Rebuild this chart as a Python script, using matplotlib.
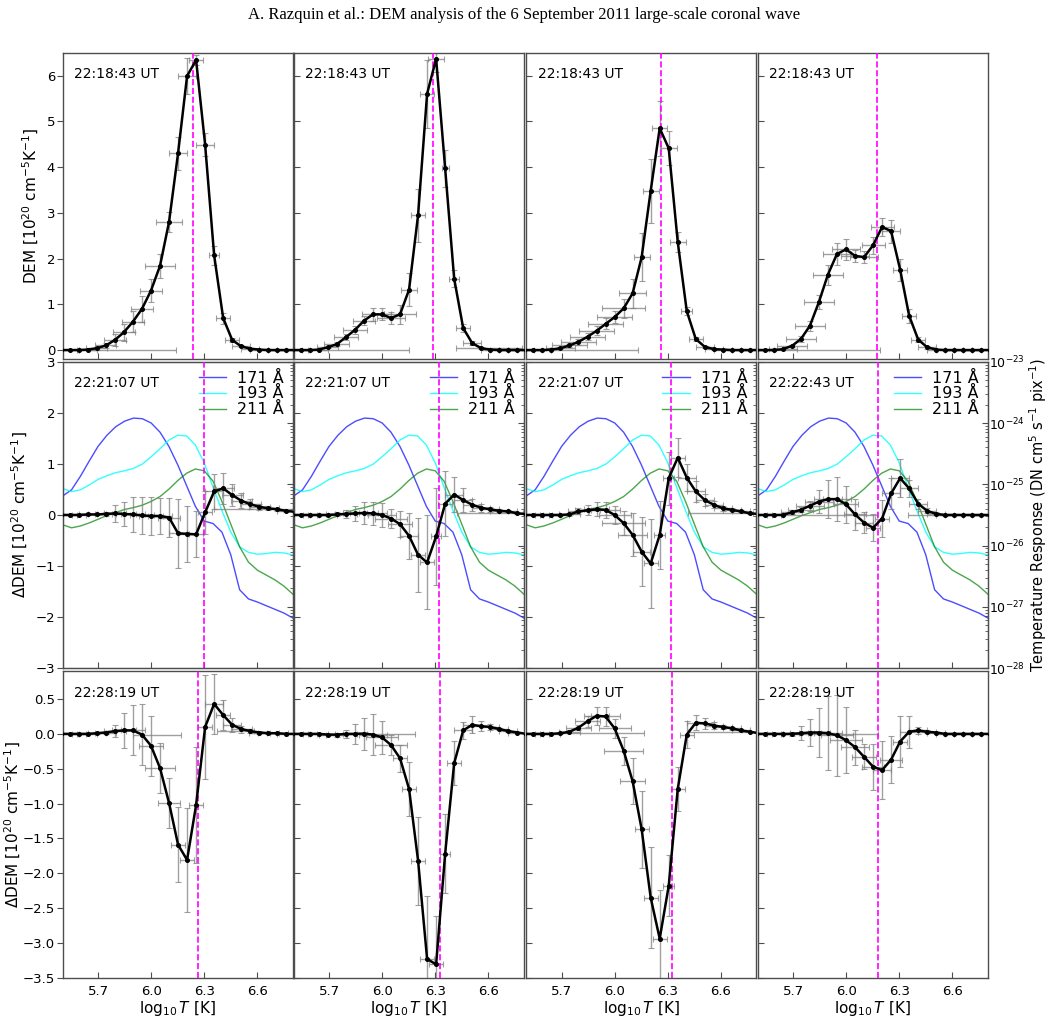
import numpy as np
import matplotlib
matplotlib.use("Agg")
import matplotlib.pyplot as plt

# temperature grid of the DEM points (two outer points fall just outside the axes)
logT = [5.489, 5.54, 5.591, 5.642, 5.693, 5.744, 5.795, 5.846, 5.897, 5.948, 5.999,
        6.05, 6.101, 6.152, 6.203, 6.254, 6.305, 6.356, 6.407, 6.458, 6.509, 6.56,
        6.611, 6.662, 6.713, 6.764, 6.815]

# ---- row 1 : DEM ----
dem_r1c1 = [0, 0, 0, 0.01, 0.04, 0.1, 0.22, 0.39, 0.62, 0.9, 1.3, 1.84, 2.8, 4.3, 5.99, 6.34, 4.49, 2.07, 0.7, 0.22, 0.08, 0.03, 0.01, 0, 0, 0, 0]
dem_r1c2 = [0, 0, 0, 0.01, 0.06, 0.13, 0.28, 0.44, 0.64, 0.78, 0.78, 0.7, 0.78, 1.32, 2.95, 5.6, 6.37, 3.97, 1.56, 0.48, 0.15, 0.04, 0.01, 0, 0, 0, 0]
dem_r1c3 = [0, 0, 0, 0.01, 0.04, 0.1, 0.18, 0.29, 0.42, 0.57, 0.72, 0.91, 1.24, 2.03, 3.48, 4.85, 4.41, 2.36, 0.85, 0.24, 0.07, 0.02, 0.01, 0, 0, 0, 0]
dem_r1c4 = [0, 0, 0, 0.02, 0.09, 0.24, 0.53, 1.05, 1.65, 2.1, 2.2, 2.06, 2.03, 2.29, 2.69, 2.6, 1.76, 0.75, 0.23, 0.06, 0.01, 0, 0, 0, 0, 0, 0]

# ---- row 2 : DEM difference ----
dem_r2c1 = [0, 0, 0, 0.01, 0.01, 0.02, 0.03, 0.02, 0.01, -0.01, -0.02, -0.02, -0.05, -0.36, -0.37, -0.38, 0.05, 0.46, 0.52, 0.39, 0.28, 0.21, 0.16, 0.13, 0.11, 0.08, 0.06]
dem_r2c2 = [0, 0, 0, 0, 0, 0.01, 0.02, 0.03, 0.04, 0.03, 0, -0.07, -0.18, -0.41, -0.78, -0.93, -0.42, 0.22, 0.4, 0.29, 0.2, 0.14, 0.11, 0.08, 0.07, 0.03, 0.02]
dem_r2c3 = [0, 0, 0, 0, 0, 0.01, 0.07, 0.09, 0.11, 0.1, 0, -0.16, -0.39, -0.72, -0.95, -0.39, 0.72, 1.12, 0.73, 0.46, 0.29, 0.2, 0.13, 0.1, 0.07, 0.03, 0.02]
dem_r2c4 = [0, 0, 0, 0, 0.05, 0.1, 0.18, 0.26, 0.31, 0.31, 0.21, 0.01, -0.15, -0.25, -0.07, 0.42, 0.72, 0.52, 0.22, 0.08, 0.02, 0, 0, 0, 0, 0, 0]

# ---- row 3 : DEM difference ----
dem_r3c1 = [0, 0, 0, 0, 0.01, 0.02, 0.04, 0.05, 0.05, -0.01, -0.17, -0.49, -0.99, -1.59, -1.81, -1.02, 0.1, 0.43, 0.27, 0.13, 0.07, 0.04, 0.02, 0.01, 0.01, 0, 0]
dem_r3c2 = [0, 0, 0, 0, -0.01, -0.01, 0, 0, 0.005, -0.01, -0.05, -0.16, -0.35, -0.79, -1.82, -3.23, -3.31, -1.72, -0.42, 0.05, 0.13, 0.11, 0.1, 0.07, 0.04, 0.02, 0]
dem_r3c3 = [0, 0, 0, 0, 0.01, 0.03, 0.09, 0.18, 0.26, 0.25, 0.08, -0.24, -0.68, -1.37, -2.35, -2.94, -2.18, -0.79, -0.01, 0.16, 0.15, 0.12, 0.1, 0.08, 0.05, 0.03, 0.01]
dem_r3c4 = [0, 0, 0, 0, 0, 0.01, 0.02, 0.02, 0.01, -0.02, -0.09, -0.19, -0.33, -0.47, -0.52, -0.37, -0.11, 0.03, 0.05, 0.03, 0.02, 0, 0, 0, 0, 0, 0]

# vertical errors (inner 25 points)
yerr_r1c1 = [0, 0, 0.01, 0.03, 0.05, 0.13, 0.19, 0.23, 0.29, 0.26, 0.26, 0.22, 0.36, 0.4, 0.1, 0.25, 0.2, 0.12, 0.05, 0.02, 0.01, 0, 0, 0, 0]
yerr_r1c2 = [0, 0, 0.01, 0.02, 0.04, 0.06, 0.08, 0.1, 0.14, 0.13, 0.13, 0.2, 0.36, 0.58, 0.74, 0.3, 0.4, 0.18, 0.09, 0.04, 0.02, 0.01, 0, 0, 0]
yerr_r1c3 = [0, 0, 0.01, 0.02, 0.04, 0.06, 0.08, 0.1, 0.12, 0.13, 0.2, 0.32, 0.53, 0.7, 0.6, 0.37, 0.22, 0.09, 0.05, 0.02, 0.01, 0, 0, 0, 0]
yerr_r1c4 = [0, 0, 0.01, 0.03, 0.06, 0.11, 0.15, 0.22, 0.25, 0.23, 0.13, 0.13, 0.18, 0.2, 0.25, 0.24, 0.15, 0.06, 0.03, 0.01, 0, 0, 0, 0, 0]
yerr_r2c1 = [0, 0, 0.01, 0.02, 0.04, 0.16, 0.23, 0.35, 0.37, 0.37, 0.35, 0.38, 0.67, 0.55, 0.45, 0.42, 0.35, 0.3, 0.22, 0.15, 0.1, 0.06, 0.04, 0.03, 0.02]
yerr_r2c2 = [0, 0, 0.01, 0.02, 0.04, 0.08, 0.15, 0.22, 0.23, 0.23, 0.18, 0.25, 0.45, 0.72, 0.92, 0.95, 0.64, 0.34, 0.23, 0.12, 0.08, 0.05, 0.03, 0.02, 0.01]
yerr_r2c3 = [0, 0, 0.01, 0.02, 0.03, 0.06, 0.1, 0.14, 0.15, 0.18, 0.23, 0.42, 0.68, 0.88, 0.66, 0.52, 0.38, 0.26, 0.2, 0.12, 0.07, 0.05, 0.03, 0.02, 0.01]
yerr_r2c4 = [0, 0, 0.01, 0.03, 0.05, 0.1, 0.23, 0.37, 0.43, 0.36, 0.3, 0.2, 0.26, 0.37, 0.3, 0.37, 0.16, 0.1, 0.05, 0.03, 0.02, 0.01, 0, 0, 0]
yerr_r3c1 = [0, 0, 0, 0.01, 0.02, 0.09, 0.25, 0.36, 0.44, 0.43, 0.36, 0.36, 0.54, 0.74, 0.83, 0.75, 0.43, 0.22, 0.1, 0.05, 0.03, 0.02, 0.01, 0, 0]
yerr_r3c2 = [0, 0, 0, 0.01, 0.03, 0.06, 0.14, 0.23, 0.3, 0.24, 0.15, 0.19, 0.39, 0.63, 0.9, 0.7, 0.57, 0.32, 0.12, 0.12, 0.07, 0.04, 0.02, 0.01, 0]
yerr_r3c3 = [0, 0, 0, 0.01, 0.02, 0.04, 0.08, 0.13, 0.14, 0.14, 0.2, 0.33, 0.55, 0.73, 0.7, 0.44, 0.32, 0.19, 0.11, 0.08, 0.05, 0.03, 0.02, 0.01, 0]
yerr_r3c4 = [0, 0, 0, 0.03, 0.1, 0.2, 0.35, 0.53, 0.58, 0.47, 0.25, 0.18, 0.33, 0.42, 0.34, 0.37, 0.23, 0.05, 0.02, 0.01, 0, 0, 0, 0, 0]

# horizontal (temperature resolution) errors, symmetric
xerr_r1c1 = [0.05, 0.05, 0.05, 0.06, 0.06, 0.064, 0.064, 0.062, 0.064, 0.063, 0.087, 0.072, 0.05, 0.051, 0.038, 0.05, 0.03, 0.04, 0.04, 0.05, 0.05, 0.05, 0.05, 0.05, 0.05]
xerr_r1c2 = [0.04, 0.04, 0.05, 0.06, 0.07, 0.07, 0.07, 0.06, 0.06, 0.05, 0.08, 0.09, 0.044, 0.04, 0.041, 0.044, 0.02, 0.03, 0.04, 0.05, 0.05, 0.05, 0.05, 0.05, 0.05]
xerr_r1c3 = [0.05, 0.05, 0.06, 0.08, 0.1, 0.1, 0.1, 0.1, 0.1, 0.1, 0.12, 0.075, 0.045, 0.045, 0.043, 0.045, 0.045, 0.03, 0.04, 0.05, 0.05, 0.05, 0.05, 0.05, 0.05]
xerr_r1c4 = [0.05, 0.05, 0.08, 0.083, 0.083, 0.083, 0.083, 0.083, 0.08, 0.08, 0.08, 0.08, 0.065, 0.065, 0.05, 0.04, 0.04, 0.04, 0.05, 0.05, 0.05, 0.05, 0.05, 0.05, 0.05]
xerr_r2c1 = [0.04, 0.04, 0.05, 0.05, 0.06, 0.06, 0.07, 0.07, 0.07, 0.07, 0.07, 0.06, 0.05, 0.05, 0.04, 0.04, 0.05, 0.06, 0.06, 0.06, 0.06, 0.06, 0.06, 0.06, 0.05]
xerr_r2c2 = [0.04, 0.04, 0.05, 0.05, 0.06, 0.06, 0.07, 0.08, 0.08, 0.08, 0.09, 0.07, 0.05, 0.04, 0.04, 0.03, 0.04, 0.05, 0.05, 0.05, 0.05, 0.05, 0.05, 0.05, 0.05]
xerr_r2c3 = [0.04, 0.04, 0.05, 0.05, 0.06, 0.06, 0.07, 0.07, 0.08, 0.09, 0.12, 0.08, 0.05, 0.04, 0.03, 0.03, 0.04, 0.05, 0.05, 0.05, 0.05, 0.05, 0.05, 0.05, 0.05]
xerr_r2c4 = [0.04, 0.04, 0.05, 0.06, 0.07, 0.08, 0.08, 0.08, 0.08, 0.07, 0.06, 0.05, 0.04, 0.04, 0.05, 0.05, 0.05, 0.05, 0.05, 0.05, 0.05, 0.05, 0.05, 0.05, 0.05]
xerr_r3c1 = [0.04, 0.04, 0.05, 0.05, 0.06, 0.06, 0.07, 0.07, 0.07, 0.07, 0.085, 0.06, 0.04, 0.04, 0.04, 0.04, 0.05, 0.04, 0.05, 0.06, 0.06, 0.06, 0.06, 0.06, 0.05]
xerr_r3c2 = [0.04, 0.04, 0.05, 0.05, 0.06, 0.06, 0.07, 0.07, 0.08, 0.09, 0.09, 0.04, 0.04, 0.04, 0.04, 0.04, 0.03, 0.04, 0.05, 0.05, 0.05, 0.05, 0.05, 0.05, 0.05]
xerr_r3c3 = [0.04, 0.04, 0.05, 0.05, 0.06, 0.07, 0.07, 0.07, 0.08, 0.09, 0.11, 0.07, 0.04, 0.04, 0.04, 0.03, 0.04, 0.04, 0.05, 0.05, 0.05, 0.05, 0.05, 0.05, 0.05]
xerr_r3c4 = [0.04, 0.04, 0.05, 0.05, 0.06, 0.06, 0.06, 0.08, 0.09, 0.09, 0.08, 0.07, 0.06, 0.05, 0.06, 0.04, 0.05, 0.05, 0.05, 0.05, 0.05, 0.05, 0.05, 0.05, 0.05]

# very wide, asymmetric temperature errors: (point index, left, right)
wide_r1c1 = [(1, 0.01, 0.55)]
wide_r1c2 = [(1, 0.046, 0.56), (20, 0.144, 0.23)]
wide_r1c3 = [(2, 0.0, 0.49)]
wide_r1c4 = [(1, 0.097, 0.6)]
wide_r2c1 = [(23, 0.36, 0.09)]
wide_r2c2 = [(24, 0.34, 0.03)]
wide_r2c3 = [(24, 0.35, 0.02)]
wide_r2c4 = [(2, 0.0, 0.53), (22, 0.315, 0.14)]
wide_r3c1 = [(8, 0.05, 0.22), (20, 0.19, 0.02)]
wide_r3c2 = [(7, 0.0, 0.29)]
wide_r3c3 = [(3, 0.0, 0.47), (24, 0.35, 0.04)]
wide_r3c4 = [(2, 0.0, 0.54)]

# dashed reference temperature per panel
tline_r1 = [6.239, 6.288, 6.263, 6.173]
tline_r2 = [6.296, 6.322, 6.316, 6.178]
tline_r3 = [6.262, 6.326, 6.321, 6.178]

times_r1 = ["22:18:43 UT", "22:18:43 UT", "22:18:43 UT", "22:18:43 UT"]
times_r2 = ["22:21:07 UT", "22:21:07 UT", "22:21:07 UT", "22:22:43 UT"]
times_r3 = ["22:28:19 UT", "22:28:19 UT", "22:28:19 UT", "22:28:19 UT"]

# AIA temperature responses, log10(DN cm^5 s^-1 pix^-1)
logT_resp = [5.50, 5.55, 5.60, 5.65, 5.70, 5.75, 5.80, 5.85, 5.90, 5.95, 6.00, 6.05, 6.10, 6.15,
             6.20, 6.25, 6.30, 6.35, 6.40, 6.45, 6.50, 6.55, 6.60, 6.65, 6.70, 6.75, 6.80]
resp_171 = [-25.19, -25.09, -24.87, -24.62, -24.38, -24.20, -24.06, -23.97, -23.92, -23.93, -24.00, -24.15, -24.38, -24.68,
            -25.02, -25.36, -25.60, -25.64, -25.78, -26.15, -26.72, -26.87, -26.92, -26.98, -27.04, -27.10, -27.18]
resp_193 = [-25.07, -25.12, -25.09, -25.01, -24.92, -24.86, -24.81, -24.78, -24.74, -24.67, -24.55, -24.42, -24.28, -24.20,
            -24.21, -24.36, -24.65, -25.05, -25.43, -25.78, -26.02, -26.11, -26.14, -26.13, -26.11, -26.12, -26.15]
resp_211 = [-25.66, -25.71, -25.68, -25.63, -25.57, -25.51, -25.46, -25.41, -25.38, -25.34, -25.28, -25.20, -25.08, -24.94,
            -24.82, -24.75, -24.78, -24.95, -25.28, -25.65, -26.02, -26.27, -26.40, -26.48, -26.56, -26.66, -26.79]

rows = [
    dict(dem=[dem_r1c1, dem_r1c2, dem_r1c3, dem_r1c4], yerr=[yerr_r1c1, yerr_r1c2, yerr_r1c3, yerr_r1c4],
         xerr=[xerr_r1c1, xerr_r1c2, xerr_r1c3, xerr_r1c4], wide=[wide_r1c1, wide_r1c2, wide_r1c3, wide_r1c4],
         tline=tline_r1, times=times_r1, ylim=(-0.2, 6.5), yticks=np.arange(0, 7, 1),
         ylabel=r"DEM [10$^{20}$ cm$^{-5}$K$^{-1}$]"),
    dict(dem=[dem_r2c1, dem_r2c2, dem_r2c3, dem_r2c4], yerr=[yerr_r2c1, yerr_r2c2, yerr_r2c3, yerr_r2c4],
         xerr=[xerr_r2c1, xerr_r2c2, xerr_r2c3, xerr_r2c4], wide=[wide_r2c1, wide_r2c2, wide_r2c3, wide_r2c4],
         tline=tline_r2, times=times_r2, ylim=(-3, 3), yticks=np.arange(-3, 4, 1),
         ylabel=r"$\Delta$DEM [10$^{20}$ cm$^{-5}$K$^{-1}$]"),
    dict(dem=[dem_r3c1, dem_r3c2, dem_r3c3, dem_r3c4], yerr=[yerr_r3c1, yerr_r3c2, yerr_r3c3, yerr_r3c4],
         xerr=[xerr_r3c1, xerr_r3c2, xerr_r3c3, xerr_r3c4], wide=[wide_r3c1, wide_r3c2, wide_r3c3, wide_r3c4],
         tline=tline_r3, times=times_r3, ylim=(-3.5, 0.9), yticks=np.arange(-3.5, 0.6, 0.5),
         ylabel=r"$\Delta$DEM [10$^{20}$ cm$^{-5}$K$^{-1}$]"),
]

W, H = 1048, 1021
fig = plt.figure(figsize=(W / 100, H / 100), dpi=100)
lefts = [62.7, 293.7, 526.3, 757.7]
tops = [52.7, 361.7, 671.2]
pw, ph = 230.0, 306.5

fig.text(0.5, 1 - 15 / H, "A. Razquin et al.: DEM analysis of the 6 September 2011 large-scale coronal wave",
         ha="center", va="center", family="Liberation Serif", fontsize=12)

spine_col = "0.3"
tick_fs = 9.5
x_in = np.array(logT[1:-1])
for r, row in enumerate(rows):
    for c in range(4):
        ax = fig.add_axes([lefts[c] / W, 1 - (tops[r] + ph) / H, pw / W, ph / H])
        d = np.array(row["dem"][c])
        xe = np.vstack([row["xerr"][c], row["xerr"][c]])
        for k, lo, hi in row["wide"][c]:
            xe[0, k] = lo
            xe[1, k] = hi
        ax.errorbar(x_in, d[1:-1], xerr=xe, yerr=row["yerr"][c], fmt="none",
                    ecolor="0.5", elinewidth=1.0, capsize=2, capthick=0.8, alpha=0.75, zorder=2)
        ax.plot(logT, d, color="black", lw=1.8, marker="o", ms=2.6, zorder=4)
        ax.axvline(row["tline"][c], color="magenta", ls="--", lw=1.2, zorder=3)
        ax.text(0.05, 0.93, row["times"][c], transform=ax.transAxes, fontsize=10, va="center", ha="left")

        ax.set_xlim(5.5, 6.8)
        ax.set_ylim(*row["ylim"])
        ax.set_xticks([5.7, 6.0, 6.3, 6.6])
        ax.set_yticks(row["yticks"])
        ax.tick_params(axis="x", direction="in", length=4, labelsize=tick_fs, pad=5,
                       labelbottom=(r == 2), colors=spine_col, labelcolor="black")
        ax.tick_params(axis="y", direction="out" if c == 0 else "in", length=4, labelsize=tick_fs, pad=1.5,
                       labelleft=(c == 0), colors=spine_col, labelcolor="black")
        for s in ax.spines.values():
            s.set_color(spine_col)
            s.set_linewidth(1.0)
        if c == 0:
            ax.set_ylabel(row["ylabel"], fontsize=11, labelpad=0 if r == 2 else 4)
        if r == 2:
            ax.set_xlabel(r"$\log_{10}T$ [K]", fontsize=11, labelpad=1)

        if r == 1:
            tw = ax.twinx()
            tw.set_yscale("log")
            tw.plot(logT_resp, 10 ** np.array(resp_171), color="blue", alpha=0.7, lw=1.0, label="171 Å")
            tw.plot(logT_resp, 10 ** np.array(resp_193), color="cyan", alpha=0.8, lw=1.0, label="193 Å")
            tw.plot(logT_resp, 10 ** np.array(resp_211), color="green", alpha=0.7, lw=1.0, label="211 Å")
            tw.set_ylim(1e-28, 1e-23)
            tw.set_xlim(5.5, 6.8)
            tw.tick_params(which="both", direction="in", labelsize=tick_fs - 0.5, pad=1, labelright=(c == 3),
                           colors=spine_col, labelcolor="black")
            tw.tick_params(which="major", length=4)
            tw.tick_params(which="minor", length=2)
            for s in tw.spines.values():
                s.set_color(spine_col)
            if c == 3:
                tw.set_ylabel(r"Temperature Response (DN cm$^5$ s$^{-1}$ pix$^{-1}$)", fontsize=10.5, labelpad=2)
            tw.legend(loc="upper right", frameon=False, fontsize=11.5, handlelength=1.7,
                      handletextpad=0.7, labelspacing=0.05, borderaxespad=0.15)
            ax.set_zorder(tw.get_zorder() + 1)
            ax.patch.set_visible(False)

fig.savefig("out.png", dpi=100)
